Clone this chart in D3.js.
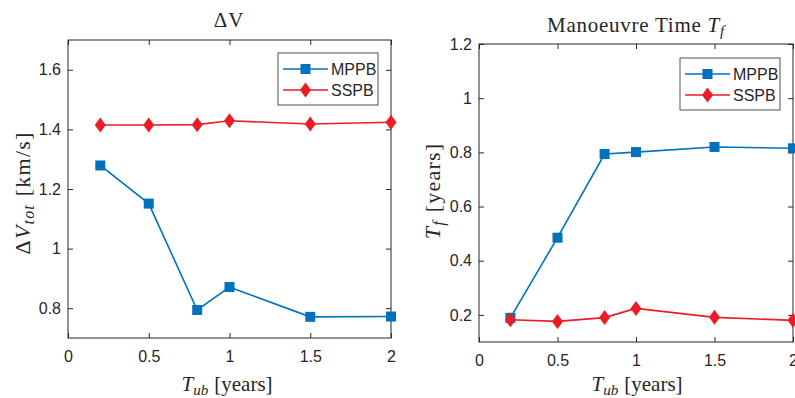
<!DOCTYPE html>
<html><head><meta charset="utf-8">
<script src="https://cdn.jsdelivr.net/npm/d3@7"></script>
<style>body{margin:0;background:#fff}svg{display:block}</style>
</head><body>
<svg id="c" width="795" height="398"></svg>
<script>
const tub = [0.2, 0.5, 0.8, 1.0, 1.5, 2.0];
const dvMPPB = [1.279, 1.151, 0.794, 0.871, 0.771, 0.772];
const dvSSPB = [1.415, 1.415, 1.416, 1.429, 1.418, 1.424];
const tfMPPB = [0.189, 0.485, 0.794, 0.801, 0.820, 0.815];
const tfSSPB = [0.182, 0.176, 0.190, 0.224, 0.191, 0.180];
const xTicks = [0, 0.5, 1, 1.5, 2];
const dvTicks = [0.8, 1, 1.2, 1.4, 1.6];
const tfTicks = [0.2, 0.4, 0.6, 0.8, 1, 1.2];
const seriesNames = ["MPPB", "SSPB"];

const BLUE = "#0072BD", RED = "#ED1C24", AX = "#262626";
const svg = d3.select("#c");
const serif = "'Liberation Serif', 'DejaVu Serif', serif";
const sans = "'Liberation Sans', Arial, sans-serif";
const TF = "16px";

function panel(o) {
  const x = d3.scaleLinear().domain([0, 2]).range([o.x0, o.x1]);
  const y = d3.scaleLinear().domain(o.ydom).range([o.y1, o.y0]);
  const g = svg.append("g");
  g.append("rect").attr("x", o.x0).attr("y", o.y0).attr("width", o.x1 - o.x0).attr("height", o.y1 - o.y0)
    .attr("fill", "none").attr("stroke", AX).attr("stroke-width", 1);
  const tl = 5;
  const xa = g.append("g").attr("transform", `translate(0,${o.y1})`)
    .call(d3.axisBottom(x).tickValues(xTicks).tickSize(-tl).tickPadding(13).tickFormat(d3.format("")));
  const xt = g.append("g").attr("transform", `translate(0,${o.y0})`)
    .call(d3.axisTop(x).tickValues(xTicks).tickSize(-tl).tickFormat(""));
  const ya = g.append("g").attr("transform", `translate(${o.x0},0)`)
    .call(d3.axisLeft(y).tickValues(o.yticks).tickSize(-tl).tickPadding(7).tickFormat(d3.format("")));
  const yr = g.append("g").attr("transform", `translate(${o.x1},0)`)
    .call(d3.axisRight(y).tickValues(o.yticks).tickSize(-tl).tickFormat(""));
  [xa, xt, ya, yr].forEach(a => {
    a.select(".domain").remove();
    a.selectAll(".tick line").attr("stroke", AX);
    a.selectAll("text").attr("fill", AX).style("font-family", sans).style("font-size", TF);
  });
  const line = d3.line().x((d, i) => x(tub[i])).y(d => y(d));
  [[o.s1, BLUE, "sq"], [o.s2, RED, "di"]].forEach(([vals, col, m]) => {
    g.append("path").attr("d", line(vals)).attr("fill", "none").attr("stroke", col).attr("stroke-width", 1.6);
    vals.forEach((v, i) => marker(g, x(tub[i]), y(v), col, m));
  });
  const L = g.append("g");
  L.append("rect").attr("x", o.lx).attr("y", o.ly).attr("width", 100).attr("height", 52)
    .attr("fill", "#fff").attr("stroke", AX).attr("stroke-width", 0.8);
  [[BLUE, "sq", seriesNames[0]], [RED, "di", seriesNames[1]]].forEach(([col, m, name], k) => {
    const cy = o.ly + 16 + k * 21;
    L.append("line").attr("x1", o.lx + 5).attr("x2", o.lx + 50).attr("y1", cy).attr("y2", cy)
      .attr("stroke", col).attr("stroke-width", 1.6);
    marker(L, o.lx + 27.5, cy, col, m);
    L.append("text").attr("x", o.lx + 53).attr("y", cy + 5.5).text(name)
      .attr("fill", AX).style("font-family", sans).style("font-size", TF);
  });
}

function marker(g, cx, cy, col, m) {
  if (m === "sq") {
    g.append("rect").attr("x", cx - 5).attr("y", cy - 5).attr("width", 10).attr("height", 10).attr("fill", col);
  } else {
    g.append("path").attr("d", `M${cx},${cy - 7.5}L${cx + 5.5},${cy}L${cx},${cy + 7.5}L${cx - 5.5},${cy}Z`).attr("fill", col);
  }
}

panel({x0: 68, x1: 391, y0: 40, y1: 338, ydom: [0.7, 1.7], yticks: dvTicks, s1: dvMPPB, s2: dvSSPB, lx: 278, ly: 53});
panel({x0: 479, x1: 793, y0: 44, y1: 342, ydom: [0.1, 1.2], yticks: tfTicks, s1: tfMPPB, s2: tfSSPB, lx: 680, ly: 58});

// parts: [text, italic, subscript, extra gap before]
function label(x, y, rot, parts, f, target, maxLs) {
  const t = svg.append("text").attr("transform", `translate(${x},${y}) rotate(${rot})`)
    .attr("text-anchor", "middle").attr("fill", AX).style("font-family", serif).style("font-size", f + "px");
  parts.forEach(([s, it, sub, gap], i) => {
    const prevSub = i > 0 && parts[i - 1][2];
    const sp = t.append("tspan").text(s).style("font-style", it ? "italic" : "normal")
      .style("font-size", (sub ? f * 0.72 : f) + "px")
      .attr("dy", sub && !prevSub ? f * 0.2 : (!sub && prevSub ? -f * 0.2 : 0));
    if (gap) sp.attr("dx", gap);
  });
  const len = t.node().getComputedTextLength() + d3.sum(parts, p => p[3] || 0);
  const n = parts.map(p => p[0]).join("").length;
  const ls = Math.min(maxLs, Math.max(0, (target - len) / n));
  t.style("letter-spacing", ls + "px");
}
label(229, 27, 0, [["ΔV", 0, 0]], 21, 32, 1);
label(636, 32, 0, [["Manoeuvre Time ", 0, 0], ["T", 1, 0], ["f", 1, 1]], 21, 178, 1);
label(227, 391, 0, [["T", 1, 0], ["ub", 1, 1], ["[years]", 0, 0, 6]], 21, 88, 0.6);
label(637, 391, 0, [["T", 1, 0], ["ub", 1, 1], ["[years]", 0, 0, 6]], 21, 88, 0.6);
label(30, 193, -90, [["Δ", 0, 0], ["V", 1, 0], ["tot", 1, 1], ["[km/s]", 0, 0, 8]], 22, 142, 1.2);
label(440, 191, -90, [["T", 1, 0], ["f", 1, 1], ["[years]", 0, 0, 8]], 22, 104, 1.2);
</script>
</body></html>
